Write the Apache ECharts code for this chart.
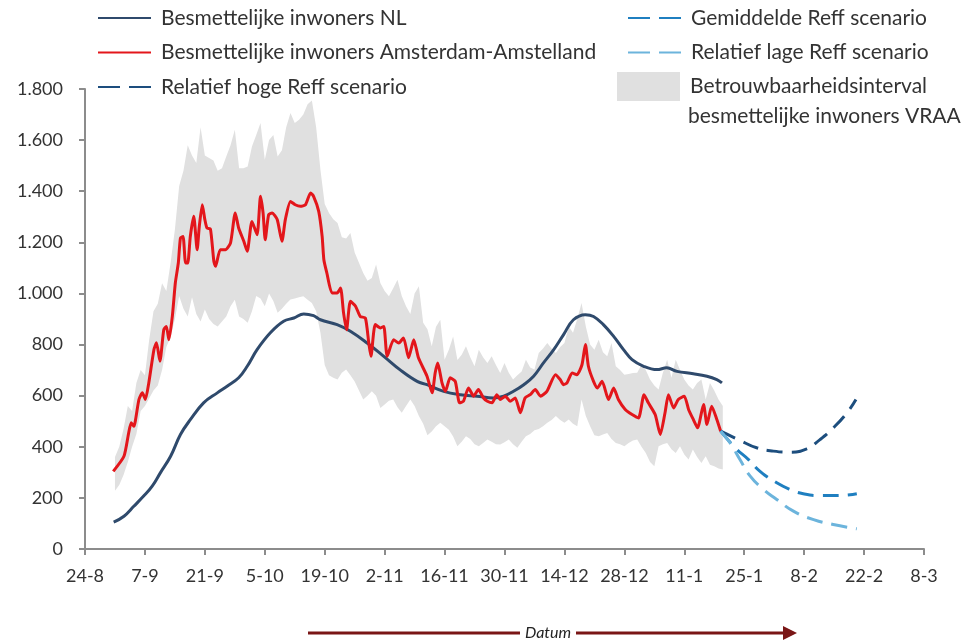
<!DOCTYPE html>
<html><head><meta charset="utf-8">
<script src="https://cdn.jsdelivr.net/npm/echarts@6/dist/echarts.min.js"></script>
<style>html,body{margin:0;padding:0;background:#fff}#c{width:964px;height:641px}</style>
</head><body><div id="c"></div>
<script>
// x = days since 24-8-2020
const xTickLabels = ['24-8','7-9','21-9','5-10','19-10','2-11','16-11','30-11','14-12','28-12','11-1','25-1','8-2','22-2','8-3'];
const yTickLabels = ['0','200','400','600','800','1.000','1.200','1.400','1.600','1.800'];

const nlData = [[6.7,105],[9.1,128],[11.4,167],[13.7,207],[15.7,246],[17.6,298],[20.0,363],[22.3,448],[24.6,506],[27.7,572],[30.9,611],[33.2,637],[35.9,670],[37.9,715],[40.2,780],[43.3,846],[46.4,891],[48.8,904],[51.1,920],[53.4,913],[55.0,897],[58.9,878],[62.0,852],[65.9,806],[69.8,754],[73.7,700],[77.6,656],[79.9,643],[83.8,617],[87.7,604],[91.6,598],[95.4,591],[97.8,598],[100.1,617],[102.5,643],[104.8,676],[107.1,728],[109.5,780],[111.8,839],[114.1,897],[116.9,917],[118.8,910],[121.1,878],[123.5,832],[125.8,780],[127.8,741],[130.5,715],[133.6,702],[135.9,709],[138.3,695],[142.1,686],[145.3,676],[147.6,663],[148.8,650]];

const amsData = [[6.6,304],[9.1,363],[10.2,454],[10.8,494],[11.4,480],[12.6,585],[13.4,611],[14.1,585],[14.9,650],[16.1,780],[16.7,807],[17.5,735],[18.4,858],[19.0,871],[19.6,819],[20.4,910],[21.1,1041],[21.8,1119],[22.3,1217],[22.9,1223],[23.5,1119],[24.0,1119],[24.6,1223],[25.4,1302],[26.2,1171],[26.7,1262],[27.4,1347],[28.0,1289],[28.5,1256],[29.3,1252],[30.1,1126],[30.5,1106],[31.6,1171],[32.8,1171],[34.0,1198],[35.1,1315],[35.9,1256],[37.1,1204],[37.9,1165],[39.0,1282],[40.2,1230],[41.0,1380],[41.6,1315],[42.1,1210],[42.9,1308],[43.7,1315],[44.9,1289],[46.0,1204],[46.8,1289],[48.0,1360],[49.1,1347],[50.3,1341],[51.5,1347],[52.7,1393],[53.4,1380],[54.6,1321],[55.4,1223],[55.8,1132],[56.5,1080],[57.7,1002],[58.9,1002],[59.7,1021],[60.4,924],[61.1,858],[62.0,969],[63.2,950],[64.3,910],[65.5,904],[66.3,806],[66.8,754],[67.8,878],[69.0,865],[69.8,871],[70.6,754],[72.1,819],[73.3,806],[74.4,826],[75.6,748],[76.8,819],[77.9,748],[79.9,676],[81.1,611],[81.8,689],[82.4,728],[83.4,650],[84.2,617],[85.3,670],[86.5,656],[87.5,572],[88.4,578],[89.6,630],[90.8,598],[91.9,624],[93.1,591],[94.0,578],[95.1,572],[96.2,604],[97.0,585],[98.2,598],[99.3,578],[100.5,591],[101.7,533],[102.8,591],[104.0,604],[105.2,624],[106.4,598],[107.9,617],[109.9,682],[111.0,663],[111.8,643],[112.6,650],[113.8,689],[114.9,682],[116.1,721],[116.9,800],[117.6,715],[118.8,656],[119.7,630],[120.8,656],[122.3,585],[123.5,630],[124.6,585],[126.2,546],[127.8,526],[129.3,513],[130.6,604],[131.6,572],[133.2,526],[134.4,448],[135.5,533],[136.3,604],[137.5,552],[138.6,585],[140.0,598],[141.0,546],[142.1,507],[143.1,474],[144.5,565],[145.3,487],[146.4,559],[147.6,507],[148.5,461]];

const bandDays = [7,8,9,10,11,12,13,14,15,16,17,18,19,20,21,22,23,24,25,26,27,28,29,30,31,32,33,34,35,36,37,38,39,40,41,42,43,44,45,46,47,48,49,50,51,52,53,54,55,56,57,58,59,60,61,62,63,64,65,66,67,68,69,70,71,72,73,74,75,76,77,78,79,80,81,82,83,84,85,86,87,88,89,90,91,92,93,94,95,96,97,98,99,100,101,102,103,104,105,106,107,108,109,110,111,112,113,114,115,116,117,118,119,120,121,122,123,124,125,126,127,128,129,130,131,132,133,134,135,136,137,138,139,140,141,142,143,144,145,146,147,148,149];
const bandHigh = [360,400,470,560,540,650,700,680,820,930,960,1040,1010,1120,1250,1420,1480,1580,1540,1510,1650,1540,1530,1520,1480,1490,1536,1580,1641,1490,1490,1497,1575,1620,1667,1523,1600,1620,1536,1560,1650,1706,1667,1680,1700,1740,1755,1650,1484,1350,1315,1290,1276,1220,1215,1237,1160,1120,1080,1050,1060,1113,1041,1010,989,1020,1054,990,950,920,1000,1028,885,860,793,870,897,741,780,832,740,760,793,750,715,780,750,728,754,720,689,728,690,663,680,695,741,710,702,767,785,806,785,767,790,806,871,846,900,963,871,800,780,819,770,754,806,715,700,682,685,689,690,721,700,663,640,624,690,741,670,741,700,663,640,624,650,663,585,650,620,585,560];
const bandLow = [228,250,290,340,400,450,540,560,590,620,640,700,790,830,900,990,940,910,985,920,890,937,900,880,871,890,910,950,975,910,900,885,930,990,980,950,1000,970,924,940,960,976,980,985,989,975,963,930,846,720,680,670,663,690,702,680,655,620,585,600,617,600,552,565,580,585,555,533,560,585,560,520,490,445,460,480,494,480,467,440,402,420,441,430,410,402,415,428,420,410,409,418,428,410,396,420,441,450,465,470,480,494,505,520,505,494,507,490,480,585,520,480,445,441,448,454,430,415,410,402,415,425,428,400,376,340,324,402,410,415,390,376,402,370,350,389,360,337,363,330,324,315,311];

const highScen = [[148.5,461],[153.4,422],[156.9,396],[160.8,383],[164.7,379],[168.6,392],[171.7,428],[174.8,474],[178.0,533],[180.1,585]];
const midScen  = [[148.5,461],[151.9,396],[155.0,350],[157.7,304],[161.6,259],[164.7,233],[167.8,216],[171.7,209],[175.6,209],[180.3,216]];
const lowScen  = [[148.5,461],[150.7,415],[153.0,350],[155.4,285],[158.5,233],[161.6,194],[165.5,148],[170.2,115],[174.8,96],[180.3,79]];

const FONT = 'Lato';
const bandName = 'Betrouwbaarheidsinterval besmettelijke inwoners VRAA';
const dayCats = [];
for (let d = 0; d <= 196; d++) dayCats.push(String(d));

const chart = echarts.init(document.getElementById('c'));
const legendText = {fontFamily: FONT, fontSize: 21, color: '#333', lineHeight: 22, padding: [0,0,0,5]};
const dash = {type: [22, 9]};
chart.setOption({
  animation: false,
  grid: {left: 85, right: 40, top: 89, bottom: 92},
  legend: [
    {orient: 'vertical', left: 97, top: 7, padding: 0, itemWidth: 53, itemHeight: 14, itemGap: 12.5, textStyle: legendText,
     itemStyle: {opacity: 0},
     data: ['Besmettelijke inwoners NL', 'Besmettelijke inwoners Amsterdam-Amstelland', {name: 'Relatief hoge Reff scenario', lineStyle: dash}]},
    {orient: 'vertical', left: 627, top: 7, padding: 0, itemWidth: 53, itemHeight: 14, itemGap: 12.5, textStyle: legendText,
     itemStyle: {opacity: 0},
     data: [{name: 'Gemiddelde Reff scenario', lineStyle: dash}, {name: 'Relatief lage Reff scenario', lineStyle: dash}]},
    {orient: 'vertical', left: 617, top: 72, padding: 0, itemWidth: 63, itemHeight: 29, textStyle: legendText,
     formatter: () => 'Betrouwbaarheidsinterval', data: [{name: bandName, icon: 'rect'}]}
  ],
  xAxis: [{
    type: 'value', min: 0, max: 196, interval: 14,
    splitLine: {show: false},
    axisLine: {lineStyle: {color: '#8c8c8c', width: 2}},
    axisTick: {show: true, length: 6, lineStyle: {color: '#8c8c8c', width: 2}},
    axisLabel: {margin: 18, fontFamily: FONT, fontSize: 18, color: '#333', formatter: v => xTickLabels[Math.round(v / 14)]}
  }, {
    type: 'category', data: dayCats, boundaryGap: false, show: false
  }],
  yAxis: {
    type: 'value', min: 0, max: 1800, interval: 200,
    splitLine: {show: false},
    axisLine: {show: true, lineStyle: {color: '#8c8c8c', width: 2}},
    axisTick: {show: true, length: 6, lineStyle: {color: '#8c8c8c', width: 2}},
    axisLabel: {margin: 22, fontFamily: FONT, fontSize: 18, color: '#333', formatter: v => yTickLabels[Math.round(v / 200)]}
  },
  graphic: [
    {type: 'text', left: 688, top: 106, style: {text: 'besmettelijke inwoners VRAA', fontFamily: FONT, fontSize: 21, fill: '#333'}},
    {type: 'line', shape: {x1: 308, y1: 633, x2: 520, y2: 633}, style: {stroke: '#7a1616', lineWidth: 3}},
    {type: 'text', x: 548, y: 633, style: {text: 'Datum', fontFamily: FONT, fontStyle: 'italic', fontSize: 16, fill: '#222', align: 'center', verticalAlign: 'middle'}},
    {type: 'line', shape: {x1: 576, y1: 633, x2: 786, y2: 633}, style: {stroke: '#7a1616', lineWidth: 3}},
    {type: 'polygon', shape: {points: [[783, 626], [797, 633], [783, 640]]}, style: {fill: '#7a1616'}}
  ],
  series: [
    {name: '_low', type: 'line', xAxisIndex: 1, stack: 'ci', symbol: 'none', silent: true, lineStyle: {opacity: 0, width: 0},
     data: bandDays.map((d, i) => [String(d), bandLow[i]])},
    {name: bandName, type: 'line', xAxisIndex: 1, stack: 'ci', symbol: 'none', silent: true, color: '#e0e0e0',
     lineStyle: {opacity: 0, width: 0}, areaStyle: {color: '#e0e0e0', opacity: 1},
     data: bandDays.map((d, i) => [String(d), bandHigh[i] - bandLow[i]])},
    {name: 'Besmettelijke inwoners NL', type: 'line', symbol: 'none', smooth: 0.4, color: '#2f4a6c',
     lineStyle: {width: 3}, data: nlData},
    {name: 'Besmettelijke inwoners Amsterdam-Amstelland', type: 'line', symbol: 'none', smooth: 0.2, color: '#e3161b',
     lineStyle: {width: 3}, data: amsData},
    {name: 'Relatief hoge Reff scenario', type: 'line', symbol: 'none', smooth: 0.5, color: '#1d4e7e',
     lineStyle: {width: 3, type: [16, 9]}, data: highScen},
    {name: 'Gemiddelde Reff scenario', type: 'line', symbol: 'none', smooth: 0.5, color: '#1f7fc0',
     lineStyle: {width: 3, type: [16, 9]}, data: midScen},
    {name: 'Relatief lage Reff scenario', type: 'line', symbol: 'none', smooth: 0.5, color: '#6cb4dc',
     lineStyle: {width: 3, type: [16, 9]}, data: lowScen}
  ]
});
</script></body></html>
